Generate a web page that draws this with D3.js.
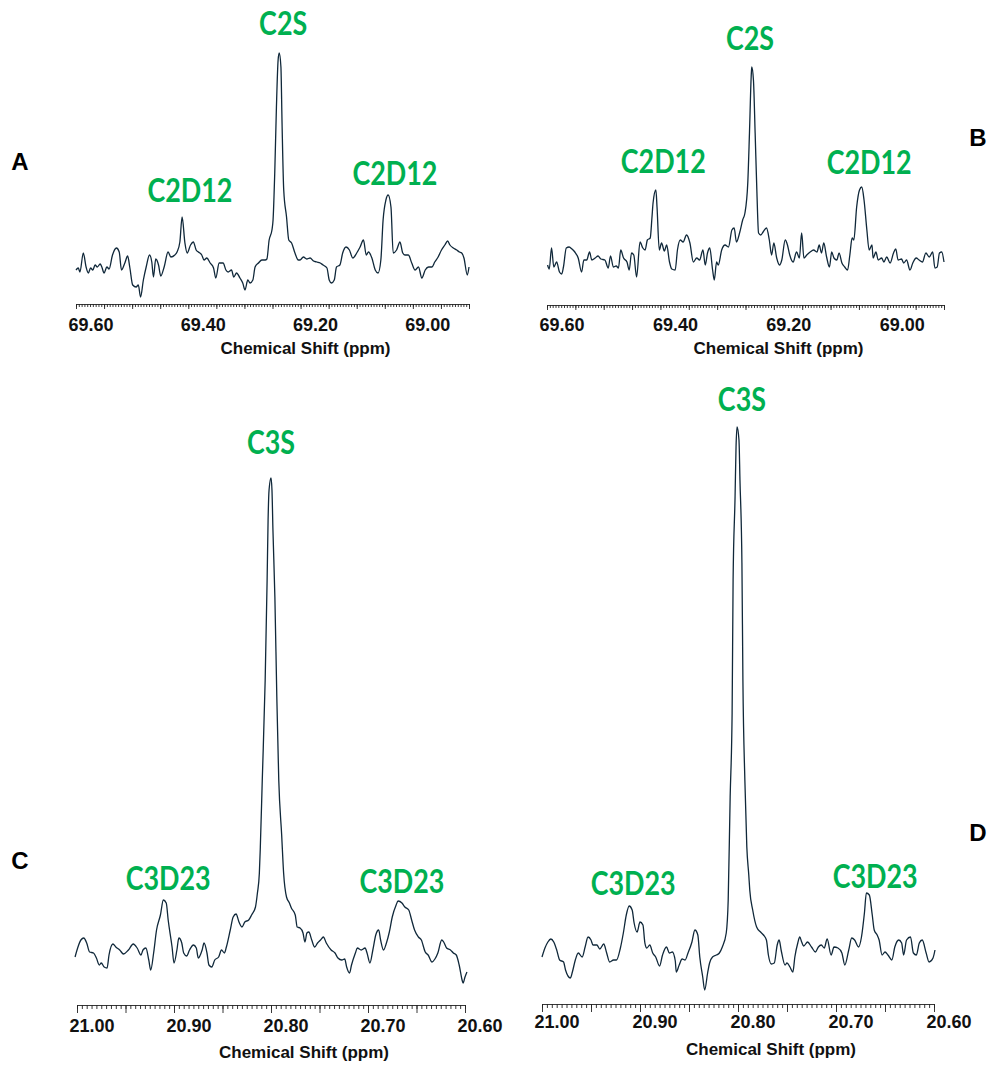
<!DOCTYPE html>
<html><head><meta charset="utf-8">
<script src="https://cdn.jsdelivr.net/npm/d3@7"></script>
<style>body{margin:0;background:#fff}svg{display:block}</style>
</head><body>
<svg id="chart" width="993" height="1068"></svg>
<script>
// ---- data: [chemical shift (ppm), intensity (a.u.)] ----
const specA = [[69.600,30],[69.596,32],[69.593,28],[69.587,47],[69.582,33],[69.578,27],[69.574,32],[69.570,30],[69.566,35],[69.562,33],[69.557,36],[69.554,33],[69.550,27],[69.545,33],[69.541,31],[69.535,45],[69.528,52],[69.523,48],[69.519,30],[69.513,37],[69.508,44],[69.504,32],[69.499,15],[69.493,13],[69.489,15],[69.485,3],[69.480,20],[69.475,33],[69.469,45],[69.465,38],[69.462,23],[69.458,41],[69.453,35],[69.449,24],[69.443,33],[69.436,48],[69.431,43],[69.424,45],[69.420,48],[69.415,58],[69.411,83],[69.406,57],[69.402,47],[69.396,55],[69.391,58],[69.386,50],[69.382,48],[69.376,45],[69.372,40],[69.367,42],[69.361,37],[69.355,32],[69.351,22],[69.345,37],[69.338,37],[69.333,30],[69.329,28],[69.323,30],[69.319,23],[69.314,27],[69.308,22],[69.303,17],[69.299,10],[69.294,20],[69.290,17],[69.285,20],[69.281,33],[69.275,37],[69.269,40],[69.263,40],[69.260,41],[69.256,60],[69.251,70],[69.249,80],[69.246,127],[69.243,193],[69.240,240],[69.238,247],[69.235,233],[69.233,177],[69.230,110],[69.225,83],[69.221,60],[69.216,57],[69.210,47],[69.204,40],[69.201,40],[69.195,43],[69.189,41],[69.183,42],[69.177,39],[69.171,38],[69.165,37],[69.160,35],[69.153,32],[69.149,20],[69.145,17],[69.140,20],[69.136,33],[69.130,35],[69.125,47],[69.119,53],[69.113,50],[69.107,42],[69.100,47],[69.094,53],[69.088,60],[69.083,45],[69.079,48],[69.073,42],[69.067,30],[69.062,27],[69.057,40],[69.053,80],[69.048,100],[69.044,105],[69.039,93],[69.035,47],[69.029,50],[69.023,58],[69.018,47],[69.014,45],[69.008,45],[69.002,37],[68.996,30],[68.990,33],[68.984,22],[68.978,30],[68.972,33],[68.966,33],[68.961,38],[68.955,43],[68.949,50],[68.943,55],[68.938,59],[68.934,55],[68.928,52],[68.922,50],[68.917,48],[68.913,47],[68.909,42],[68.903,25],[68.900,33]];

const specB = [[69.599,35],[69.596,31],[69.592,52],[69.588,33],[69.583,38],[69.578,28],[69.574,26],[69.571,33],[69.566,52],[69.561,53],[69.556,51],[69.551,48],[69.545,42],[69.539,28],[69.535,40],[69.530,40],[69.525,48],[69.521,40],[69.515,42],[69.510,44],[69.505,41],[69.498,40],[69.492,32],[69.488,44],[69.483,33],[69.478,34],[69.474,32],[69.470,50],[69.465,42],[69.459,38],[69.455,30],[69.451,47],[69.447,45],[69.442,23],[69.436,58],[69.431,52],[69.427,50],[69.423,60],[69.418,62],[69.415,82],[69.413,97],[69.408,110],[69.406,93],[69.402,50],[69.398,57],[69.393,49],[69.389,55],[69.384,38],[69.380,31],[69.374,30],[69.370,50],[69.365,60],[69.360,58],[69.354,65],[69.348,57],[69.342,38],[69.336,42],[69.331,40],[69.325,50],[69.321,35],[69.317,47],[69.313,52],[69.308,30],[69.305,20],[69.301,38],[69.298,35],[69.292,50],[69.286,55],[69.280,53],[69.274,70],[69.270,72],[69.266,58],[69.260,68],[69.255,80],[69.251,87],[69.246,117],[69.243,167],[69.240,223],[69.239,233],[69.236,220],[69.233,167],[69.230,110],[69.227,67],[69.223,65],[69.219,68],[69.213,72],[69.208,60],[69.204,45],[69.200,57],[69.195,42],[69.190,35],[69.186,40],[69.180,60],[69.176,55],[69.172,45],[69.166,38],[69.160,48],[69.155,42],[69.151,67],[69.147,42],[69.142,45],[69.136,48],[69.130,50],[69.124,48],[69.120,55],[69.116,47],[69.112,57],[69.107,43],[69.102,33],[69.098,48],[69.094,42],[69.089,40],[69.085,47],[69.080,37],[69.075,33],[69.070,30],[69.066,45],[69.062,62],[69.059,60],[69.054,93],[69.049,110],[69.045,113],[69.041,100],[69.036,70],[69.032,50],[69.027,55],[69.025,42],[69.020,48],[69.016,40],[69.010,42],[69.006,38],[69.001,43],[68.995,37],[68.989,47],[68.985,51],[68.981,40],[68.975,41],[68.971,37],[68.966,40],[68.960,30],[68.955,37],[68.949,42],[68.944,40],[68.938,38],[68.932,47],[68.926,43],[68.920,48],[68.916,32],[68.912,33],[68.908,47],[68.904,48],[68.900,38]];

const specC = [[21.002,43],[20.999,53],[20.996,60],[20.993,62],[20.990,57],[20.987,48],[20.983,47],[20.980,42],[20.977,35],[20.975,37],[20.972,33],[20.969,32],[20.967,45],[20.963,56],[20.960,53],[20.956,50],[20.952,46],[20.947,50],[20.942,56],[20.938,52],[20.934,45],[20.932,50],[20.929,52],[20.926,40],[20.924,30],[20.921,47],[20.918,70],[20.914,85],[20.911,100],[20.908,97],[20.906,80],[20.902,53],[20.900,37],[20.897,50],[20.895,62],[20.892,57],[20.890,47],[20.887,44],[20.884,50],[20.880,55],[20.877,52],[20.875,42],[20.871,50],[20.869,57],[20.866,47],[20.864,35],[20.861,33],[20.858,40],[20.854,43],[20.851,50],[20.848,47],[20.846,53],[20.842,70],[20.839,83],[20.836,86],[20.833,78],[20.830,73],[20.827,78],[20.823,80],[20.820,85],[20.816,93],[20.814,107],[20.812,127],[20.811,153],[20.809,220],[20.806,320],[20.804,420],[20.803,480],[20.802,510],[20.800,522],[20.799,510],[20.798,470],[20.796,403],[20.794,303],[20.792,220],[20.789,165],[20.787,127],[20.784,103],[20.781,97],[20.779,92],[20.775,85],[20.773,73],[20.770,72],[20.767,67],[20.765,58],[20.763,67],[20.761,68],[20.758,60],[20.755,53],[20.752,57],[20.749,60],[20.746,63],[20.743,57],[20.738,50],[20.734,47],[20.731,42],[20.727,40],[20.724,41],[20.722,33],[20.719,27],[20.717,35],[20.713,47],[20.711,52],[20.707,50],[20.703,52],[20.701,47],[20.698,37],[20.695,50],[20.692,65],[20.689,70],[20.687,60],[20.684,50],[20.681,57],[20.678,68],[20.675,83],[20.671,95],[20.669,99],[20.665,97],[20.662,93],[20.658,90],[20.655,80],[20.652,70],[20.648,63],[20.645,60],[20.641,48],[20.638,45],[20.634,38],[20.631,41],[20.628,47],[20.624,60],[20.622,58],[20.619,52],[20.615,50],[20.612,47],[20.609,45],[20.606,35],[20.603,20],[20.602,17],[20.600,23],[20.598,28]];

const specD = [[21.000,43],[20.997,52],[20.994,58],[20.991,61],[20.988,58],[20.985,50],[20.982,40],[20.978,38],[20.976,30],[20.971,22],[20.969,28],[20.966,40],[20.963,47],[20.959,43],[20.956,53],[20.953,63],[20.950,60],[20.948,55],[20.944,55],[20.941,51],[20.937,56],[20.934,47],[20.931,38],[20.927,40],[20.924,40],[20.920,52],[20.917,67],[20.914,85],[20.911,94],[20.908,90],[20.906,77],[20.903,68],[20.900,78],[20.897,75],[20.895,57],[20.893,52],[20.890,55],[20.887,47],[20.884,43],[20.880,34],[20.877,45],[20.873,53],[20.870,47],[20.867,48],[20.864,39],[20.863,28],[20.860,35],[20.857,41],[20.854,40],[20.851,47],[20.847,58],[20.844,70],[20.841,65],[20.839,43],[20.836,23],[20.834,10],[20.831,27],[20.829,37],[20.826,43],[20.822,45],[20.819,47],[20.816,53],[20.812,67],[20.810,100],[20.808,203],[20.806,287],[20.805,420],[20.803,503],[20.802,553],[20.801,573],[20.799,560],[20.798,520],[20.796,437],[20.795,320],[20.793,220],[20.791,153],[20.789,125],[20.788,110],[20.785,90],[20.781,73],[20.777,68],[20.774,65],[20.771,60],[20.769,45],[20.766,36],[20.763,37],[20.760,55],[20.758,60],[20.756,50],[20.752,35],[20.750,37],[20.747,33],[20.744,28],[20.742,43],[20.739,57],[20.737,63],[20.735,58],[20.733,54],[20.729,58],[20.725,53],[20.721,48],[20.718,53],[20.715,55],[20.712,52],[20.709,61],[20.705,45],[20.702,53],[20.698,52],[20.694,47],[20.691,35],[20.687,50],[20.684,62],[20.681,60],[20.677,53],[20.674,63],[20.671,87],[20.669,107],[20.666,105],[20.663,85],[20.661,70],[20.658,65],[20.656,60],[20.653,45],[20.650,48],[20.647,45],[20.643,40],[20.640,53],[20.636,60],[20.633,57],[20.631,45],[20.628,60],[20.624,63],[20.621,47],[20.618,45],[20.615,57],[20.612,60],[20.608,47],[20.605,38],[20.601,42],[20.599,50]];

// tick labels
const ticksC2 = [69.60, 69.40, 69.20, 69.00];
const ticksC3 = [21.00, 20.90, 20.80, 20.70, 20.60];

// peak annotations: [label, ppm, intensity at text baseline]
const peaksA = [["C2S",69.231,265],["C2D12",69.397,98],["C2D12",69.032,115]];
const peaksB = [["C2S",69.242,250],["C2D12",69.395,127],["C2D12",69.032,126]];
const peaksC = [["C3S",20.800,546],["C3D23",20.906,110],["C3D23",20.665,107]];
const peaksD = [["C3S",20.796,589],["C3D23",20.907,105],["C3D23",20.660,112]];

const panelLetters = ["A","B","C","D"];
const axisTitle = "Chemical Shift (ppm)";

// ---- drawing ----
const svg = d3.select("#chart");
const FONT = "'Liberation Sans', Arial, sans-serif";

const panels = [
  {spec:specA, peaks:peaksA, ticks:ticksC2, xd:[69.60,68.90], xr:[76,469], yd:[0,250], yr:[300,50], axisY:304, minor:3, major:5, lblY:325, titleY:348, letter:[20,170]},
  {spec:specB, peaks:peaksB, ticks:ticksC2, xd:[69.60,68.90], xr:[547,944], yd:[0,250], yr:[300,50], axisY:305, minor:3, major:5, lblY:325, titleY:348, letter:[978,146]},
  {spec:specC, peaks:peaksC, ticks:ticksC3, xd:[21.00,20.60], xr:[77,465], yd:[0,500], yr:[1000,500], axisY:1005, minor:4, major:8, lblY:1026, titleY:1052, letter:[20,869]},
  {spec:specD, peaks:peaksD, ticks:ticksC3, xd:[21.00,20.60], xr:[542,934], yd:[0,500], yr:[1000,500], axisY:1004, minor:4, major:8, lblY:1022, titleY:1049, letter:[978,841]}
];

panels.forEach((p, i) => {
  const x = d3.scaleLinear().domain(p.xd).range(p.xr);
  const y = d3.scaleLinear().domain(p.yd).range(p.yr);
  const g = svg.append("g");

  // minor ticks every 0.005 ppm
  const nMinor = Math.round((p.xd[0] - p.xd[1]) / 0.005);
  const minorVals = d3.range(nMinor + 1).map(k => +(p.xd[0] - k * 0.005).toFixed(3));
  const midVals = minorVals.filter((v, k) => k % 10 === 0);

  const axMinor = d3.axisBottom(x).tickValues(minorVals).tickSize(p.minor).tickSizeOuter(0).tickFormat("");
  const gm = g.append("g").attr("transform", `translate(0,${p.axisY})`).call(axMinor);
  gm.selectAll("path,line").attr("stroke", "#222").attr("stroke-width", 0.9);

  const axMid = d3.axisBottom(x).tickValues(midVals).tickSize(p.major).tickSizeOuter(0).tickFormat("");
  const gmid = g.append("g").attr("transform", `translate(0,${p.axisY})`).call(axMid);
  gmid.select(".domain").remove();
  gmid.selectAll("line").attr("stroke", "#222").attr("stroke-width", 0.9);

  // labels
  g.selectAll("text.tl").data(p.ticks).join("text")
    .attr("class", "tl")
    .attr("x", d => x(d) + 15)
    .attr("y", p.lblY)
    .attr("text-anchor", "middle")
    .attr("dominant-baseline", "central")
    .attr("font-family", FONT).attr("font-weight", "bold").attr("font-size", 18)
    .attr("fill", "#111")
    .text(d => d.toFixed(2));

  g.append("text")
    .attr("x", (p.xr[0] + p.xr[1]) / 2 + 33)
    .attr("y", p.titleY)
    .attr("text-anchor", "middle")
    .attr("dominant-baseline", "central")
    .attr("font-family", FONT).attr("font-weight", "bold").attr("font-size", 17)
    .attr("fill", "#111")
    .text(axisTitle);

  // spectrum
  const line = d3.line().x(d => x(d[0])).y(d => y(d[1])).curve(d3.curveMonotoneX);
  g.append("path").datum(p.spec)
    .attr("d", line)
    .attr("fill", "none")
    .attr("stroke", "#10283a")
    .attr("stroke-width", 1.3)
    .attr("stroke-linejoin", "round");

  // peak annotations
  p.peaks.forEach(([lab, ppm, val]) => {
    g.append("text")
      .attr("transform", `translate(${x(ppm)},${y(val)}) scale(0.84,1)`)
      .attr("text-anchor", "middle")
      .attr("font-family", "Lato, 'Open Sans', sans-serif")
      .attr("font-weight", "bold").attr("font-size", 32)
      .attr("fill", "#00B050")
      .text(lab);
  });

  // panel letter
  svg.append("text")
    .attr("x", p.letter[0]).attr("y", p.letter[1])
    .attr("text-anchor", "middle")
    .attr("font-family", FONT).attr("font-weight", "bold").attr("font-size", 24)
    .attr("fill", "#000")
    .text(panelLetters[i]);
});
</script>
</body></html>
